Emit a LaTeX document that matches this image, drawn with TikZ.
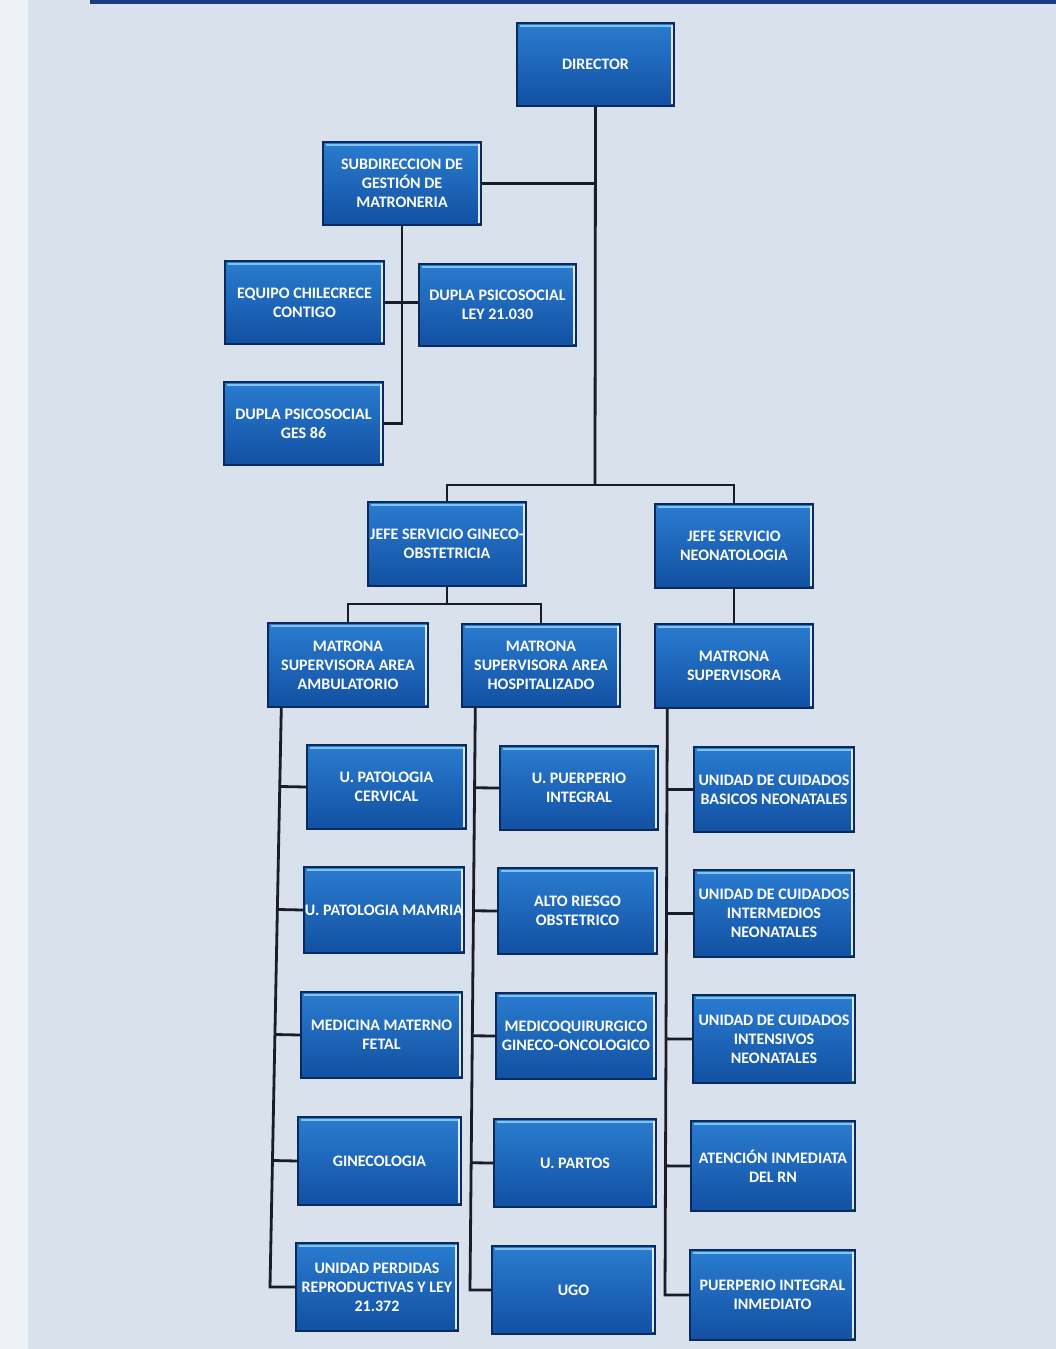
\documentclass[tikz,border=0pt]{standalone}
\usepackage{fontspec}
\setmainfont{Carlito}
\usetikzlibrary{calc}
\definecolor{bgc}{HTML}{D9E1EC}
\definecolor{bgl}{HTML}{EEF1F5}
\definecolor{boxtop}{HTML}{2A7CD0}
\definecolor{boxbot}{HTML}{1250A2}
\definecolor{boxline}{HTML}{0B2A5C}
\definecolor{hilite}{HTML}{7FC4F2}
\definecolor{connc}{HTML}{1A1C28}
\definecolor{band}{HTML}{1B3C84}
\begin{document}
\begin{tikzpicture}[x=1pt,y=-1pt,
  box/.style={rectangle, draw=boxline, line width=1.4pt,
    top color=boxtop, bottom color=boxbot, text=white,
    font=\fontsize{16}{19}\selectfont\bfseries, align=center,
    inner sep=1pt, minimum width=158pt, minimum height=83pt,
    path picture={
      \draw[hilite, line width=2.2pt]
        ([xshift=3pt,yshift=-3pt]path picture bounding box.north west) --
        ([xshift=-3pt,yshift=-3pt]path picture bounding box.north east);
      \draw[white!85!boxtop, line width=2pt]
        ([xshift=-2pt,yshift=-2pt]path picture bounding box.north east) --
        ([xshift=-2pt,yshift=2pt]path picture bounding box.south east);
    }},
  conn/.style={draw=connc, line width=2.8pt}]
\useasboundingbox (0,0) rectangle (1056,1349);
\fill[bgc] (0,0) rectangle (1056,1349);
\fill[bgl] (0,0) rectangle (28,1349);
\fill[band] (90,0) rectangle (1056,4);

% top levels
\node[box, minimum width=157pt] (dir) at (595.5,64.5) {DIRECTOR};
\node[box] (sub) at (402,183.5) {SUBDIRECCION DE\\GESTIÓN DE\\MATRONERIA};
\node[box, minimum width=159pt] (eq) at (304.5,302.5) {EQUIPO CHILECRECE\\CONTIGO};
\node[box, minimum width=157pt, minimum height=82pt] (dley) at (497.5,305) {DUPLA PSICOSOCIAL\\LEY 21.030};
\node[box, minimum width=159pt] (dges) at (303.5,423.5) {DUPLA PSICOSOCIAL\\GES 86};
\node[box, minimum height=84pt] (jg) at (447,544) {JEFE SERVICIO GINECO-\\OBSTETRICIA};
\node[box, minimum height=84pt] (jn) at (734,546) {JEFE SERVICIO\\NEONATOLOGIA};
\node[box, minimum width=160pt, minimum height=84pt] (ma) at (348,665) {MATRONA\\SUPERVISORA AREA\\AMBULATORIO};
\node[box] (mh) at (541,665.5) {MATRONA\\SUPERVISORA AREA\\HOSPITALIZADO};
\node[box, minimum height=84pt] (ms) at (734,666) {MATRONA\\SUPERVISORA};

% column 1
\node[box, minimum width=159pt, minimum height=84pt] (a1) at (386.5,787) {U. PATOLOGIA\\CERVICAL};
\node[box, minimum width=160pt, minimum height=86pt] (a2) at (384,910) {U. PATOLOGIA MAMRIA};
\node[box, minimum width=161pt, minimum height=86pt] (a3) at (381.5,1035) {MEDICINA MATERNO\\FETAL};
\node[box, minimum width=163pt, minimum height=88pt] (a4) at (379.5,1161) {GINECOLOGIA};
\node[box, minimum width=162pt, minimum height=88pt] (a5) at (377,1287) {UNIDAD PERDIDAS\\REPRODUCTIVAS Y LEY\\21.372};

% column 2
\node[box, minimum height=84pt] (b1) at (579,788) {U. PUERPERIO\\INTEGRAL};
\node[box, minimum width=159pt, minimum height=86pt] (b2) at (577.5,911) {ALTO RIESGO\\OBSTETRICO};
\node[box, minimum width=160pt, minimum height=86pt] (b3) at (576,1036) {MEDICOQUIRURGICO\\GINECO-ONCOLOGICO};
\node[box, minimum width=162pt, minimum height=88pt] (b4) at (575,1163) {U. PARTOS};
\node[box, minimum width=163pt, minimum height=88pt] (b5) at (573.5,1290) {UGO};

% column 3
\node[box, minimum width=160pt, minimum height=85pt] (c1) at (774,789.5) {UNIDAD DE CUIDADOS\\BASICOS NEONATALES};
\node[box, minimum width=160pt, minimum height=87pt] (c2) at (774,913.5) {UNIDAD DE CUIDADOS\\INTERMEDIOS\\NEONATALES};
\node[box, minimum width=162pt, minimum height=88pt] (c3) at (774,1039) {UNIDAD DE CUIDADOS\\INTENSIVOS\\NEONATALES};
\node[box, minimum width=164pt, minimum height=90pt] (c4) at (773,1166) {ATENCIÓN INMEDIATA\\DEL RN};
\node[box, minimum width=165pt, minimum height=90pt] (c5) at (772.5,1295) {PUERPERIO INTEGRAL\\INMEDIATO};

% connectors
\coordinate (bus) at (595,485);
\draw[conn] (dir.south) -- (bus);
\draw[conn] (jg.north) |- (bus);
\draw[conn] (jn.north) |- (bus);
\draw[conn] (sub.east) -- (sub.east -| bus);
\draw[conn] (sub.south) |- (dges.east);
\draw[conn] (eq.east) -- (eq.east -| dley.west);
\coordinate (gb) at (447,604);
\draw[conn] (jg.south) -- (gb);
\draw[conn] (ma.north) |- (gb);
\draw[conn] (mh.north) |- (gb);
\draw[conn] (jn.south) -- (ms.north);

\coordinate (t1a) at ([xshift=14pt]ma.south west);
\coordinate (t1b) at (270,1287);
\draw[conn] (t1a) -- (t1b) -- (a5.west);
\foreach \n in {a1,a2,a3,a4} \draw[conn] (\n.west) -- ($(t1a)!(\n.west)!(t1b)$);

\coordinate (t2a) at ([xshift=14pt]mh.south west);
\coordinate (t2b) at (470,1290);
\draw[conn] (t2a) -- (t2b) -- (b5.west);
\foreach \n in {b1,b2,b3,b4} \draw[conn] (\n.west) -- ($(t2a)!(\n.west)!(t2b)$);

\coordinate (t3a) at ([xshift=13pt]ms.south west);
\coordinate (t3b) at (665,1295);
\draw[conn] (t3a) -- (t3b) -- (c5.west);
\foreach \n in {c1,c2,c3,c4} \draw[conn] (\n.west) -- ($(t3a)!(\n.west)!(t3b)$);
\end{tikzpicture}
\end{document}
